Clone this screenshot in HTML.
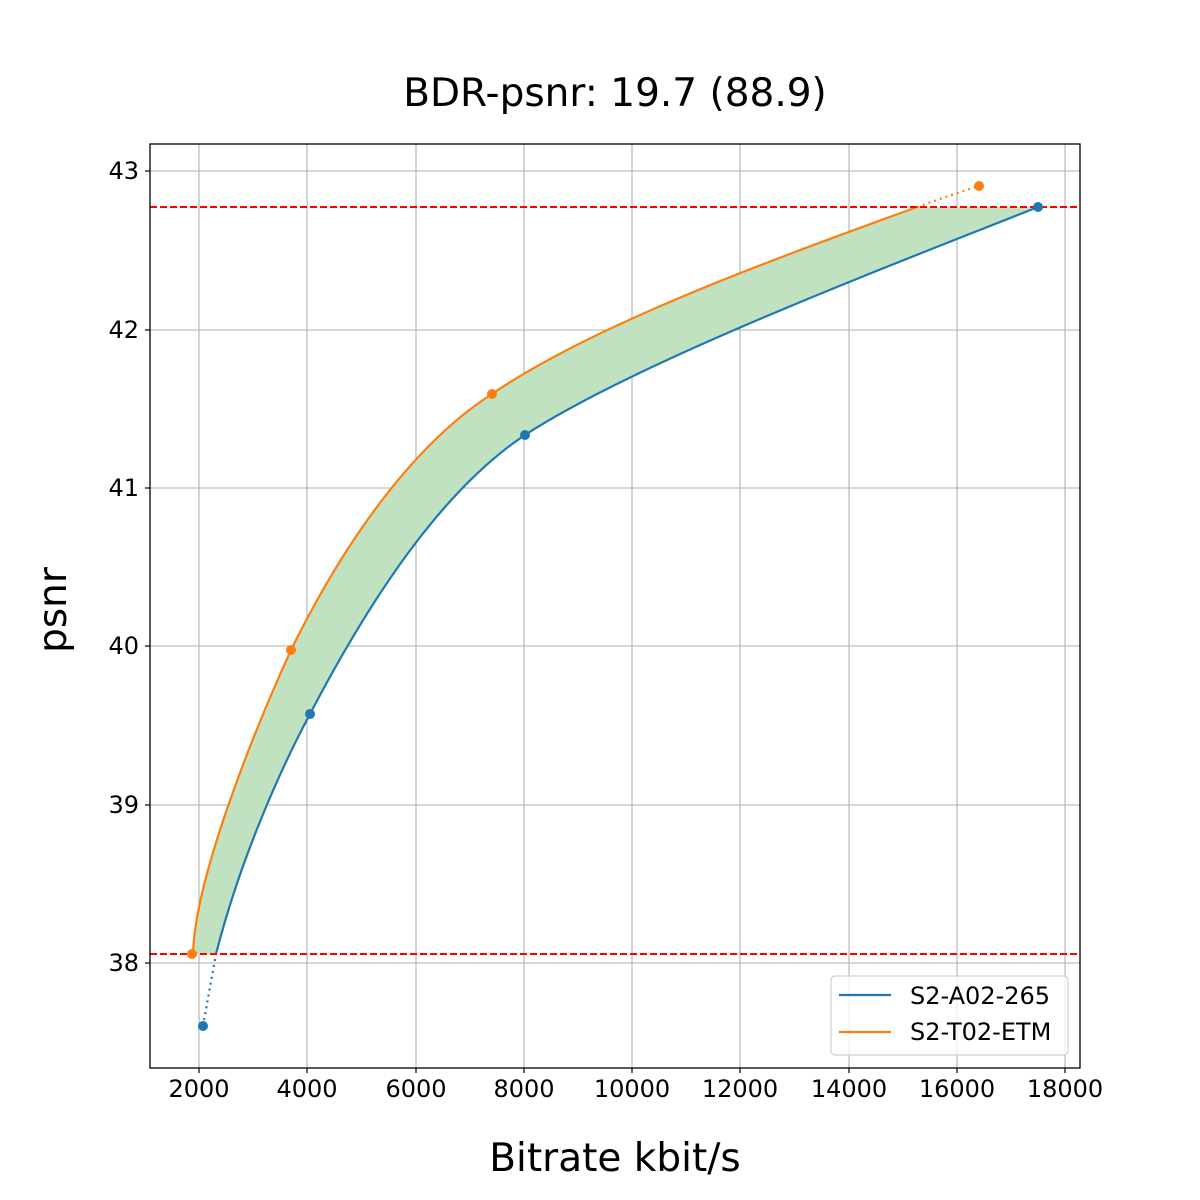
<!DOCTYPE html>
<html><head><style>body{margin:0;background:#fff}svg{display:block}text{font-family:"DejaVu Sans","Liberation Sans",sans-serif}</style></head><body>
<svg width="1200" height="1200" viewBox="0 0 1200 1200">
<rect width="1200" height="1200" fill="#fff"/>
<g stroke="#b0b0b0" stroke-width="1.1">
<line x1="199" y1="144" x2="199" y2="1068"/><line x1="307" y1="144" x2="307" y2="1068"/><line x1="416" y1="144" x2="416" y2="1068"/><line x1="524" y1="144" x2="524" y2="1068"/><line x1="632" y1="144" x2="632" y2="1068"/><line x1="740" y1="144" x2="740" y2="1068"/><line x1="849" y1="144" x2="849" y2="1068"/><line x1="957" y1="144" x2="957" y2="1068"/><line x1="1065" y1="144" x2="1065" y2="1068"/>
<line x1="150" y1="171" x2="1080" y2="171"/><line x1="150" y1="330" x2="1080" y2="330"/><line x1="150" y1="488" x2="1080" y2="488"/><line x1="150" y1="646" x2="1080" y2="646"/><line x1="150" y1="805" x2="1080" y2="805"/><line x1="150" y1="963" x2="1080" y2="963"/>
</g>
<path d="M193,954 C195,880 250,740 291,650 C350,530 420,440 492,394 C600,320 800,250 917,207 L1038,207 C900,262 640,360 525,435 C450,485 380,580 310,714 C280,770 240,860 216,954 Z" fill="#c0e2c0"/>
<path d="M193,954 C195,880 250,740 291,650 C350,530 420,440 492,394 C600,320 800,250 917,207" fill="none" stroke="#ff7f0e" stroke-width="2.2"/>
<path d="M216,954 C240,860 280,770 310,714 C380,580 450,485 525,435 C640,360 900,262 1038,207" fill="none" stroke="#1f77b4" stroke-width="2.2"/>
<path d="M917,207 C940,199 960,192 979,186" fill="none" stroke="#ff7f0e" stroke-width="2.2" stroke-dasharray="2,4"/>
<path d="M203,1026 L216,954" fill="none" stroke="#1f77b4" stroke-width="2.2" stroke-dasharray="2,4"/>
<g stroke="#ff0000" stroke-width="2" stroke-dasharray="7,3"><line x1="150" y1="207" x2="1080" y2="207"/><line x1="150" y1="954" x2="1080" y2="954"/></g>
<g fill="#1f77b4"><circle cx="203" cy="1026" r="5"/><circle cx="310" cy="714" r="5"/><circle cx="525" cy="435" r="5"/><circle cx="1038" cy="207" r="5"/></g>
<g fill="#ff7f0e"><circle cx="192" cy="954" r="5"/><circle cx="291" cy="650" r="5"/><circle cx="492" cy="394" r="5"/><circle cx="979" cy="186" r="5"/></g>
<rect x="150" y="144" width="930" height="924" fill="none" stroke="#000" stroke-width="1.3"/>
<g stroke="#000" stroke-width="1.2">
<line x1="199" y1="1068" x2="199" y2="1073"/><line x1="307" y1="1068" x2="307" y2="1073"/><line x1="416" y1="1068" x2="416" y2="1073"/><line x1="524" y1="1068" x2="524" y2="1073"/><line x1="632" y1="1068" x2="632" y2="1073"/><line x1="740" y1="1068" x2="740" y2="1073"/><line x1="849" y1="1068" x2="849" y2="1073"/><line x1="957" y1="1068" x2="957" y2="1073"/><line x1="1065" y1="1068" x2="1065" y2="1073"/>
<line x1="145" y1="171" x2="150" y2="171"/><line x1="145" y1="330" x2="150" y2="330"/><line x1="145" y1="488" x2="150" y2="488"/><line x1="145" y1="646" x2="150" y2="646"/><line x1="145" y1="805" x2="150" y2="805"/><line x1="145" y1="963" x2="150" y2="963"/>
</g>
<g font-size="24" text-anchor="middle" fill="#000">
<text x="199" y="1097">2000</text><text x="307" y="1097">4000</text><text x="416" y="1097">6000</text><text x="524" y="1097">8000</text><text x="632" y="1097">10000</text><text x="740" y="1097">12000</text><text x="849" y="1097">14000</text><text x="957" y="1097">16000</text><text x="1065" y="1097">18000</text>
</g>
<g font-size="24" text-anchor="end" fill="#000">
<text x="139" y="179">43</text><text x="139" y="338">42</text><text x="139" y="496">41</text><text x="139" y="654">40</text><text x="139" y="813">39</text><text x="139" y="971">38</text>
</g>
<text x="615" y="106" font-size="39" text-anchor="middle">BDR-psnr: 19.7 (88.9)</text>
<text x="615" y="1171" font-size="39" text-anchor="middle">Bitrate kbit/s</text>
<text transform="translate(66,610) rotate(-90)" font-size="39" text-anchor="middle">psnr</text>
<rect x="831" y="976" width="237" height="79" rx="4" fill="#fff" fill-opacity="0.8" stroke="#d0d0d0" stroke-width="1.2"/>
<line x1="839" y1="995" x2="891" y2="995" stroke="#1f77b4" stroke-width="2.2"/>
<line x1="839" y1="1032" x2="891" y2="1032" stroke="#ff7f0e" stroke-width="2.2"/>
<text x="910" y="1004" font-size="24">S2-A02-265</text>
<text x="910" y="1040" font-size="24">S2-T02-ETM</text>
</svg>
</body></html>
